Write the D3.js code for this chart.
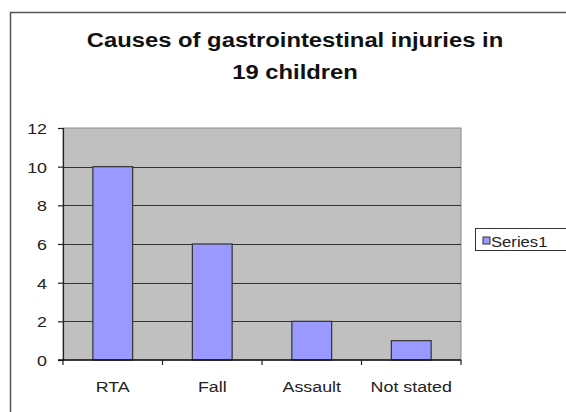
<!DOCTYPE html>
<html>
<head>
<meta charset="utf-8">
<script src="https://cdn.jsdelivr.net/npm/d3@7"></script>
<style>
  body { margin: 0; background: #fff; }
  text { font-family: "Liberation Sans", Arial, sans-serif; }
</style>
</head>
<body>
<div id="chart"></div>
<script>
// chart data
var categories = ["RTA", "Fall", "Assault", "Not stated"];
var series1 = [10, 6, 2, 1];
var yTicks = [0, 2, 4, 6, 8, 10, 12];
var titleLines = ["Causes of gastrointestinal injuries in", "19 children"];
var seriesName = "Series1";

var width = 566, height = 412;
var sx = 1.19; // the original picture is stretched sideways, text too

var plot = {left: 63, right: 461, top: 128, bottom: 360};

var svg = d3.select("#chart")
    .append("svg")
    .attr("width", width)
    .attr("height", height);

// outer chart frame (runs off the right and bottom edge)
svg.append("rect")
    .attr("x", 10.5)
    .attr("y", 12.5)
    .attr("width", 640)
    .attr("height", 460)
    .attr("fill", "#fff")
    .attr("stroke", "#555")
    .attr("stroke-width", 1.5);

// title
svg.selectAll(".title")
    .data(titleLines)
    .enter()
    .append("text")
    .attr("class", "title")
    .attr("transform", function(d, i) { return "translate(295," + (47 + i * 32) + ") scale(" + sx + ",1)"; })
    .attr("text-anchor", "middle")
    .attr("font-size", "20px")
    .attr("font-weight", "bold")
    .attr("fill", "#111")
    .text(function(d) { return d; });

var x = d3.scaleBand()
    .domain(categories)
    .range([plot.left, plot.right])
    .paddingInner(0.6)
    .paddingOuter(0.3);

var y = d3.scaleLinear()
    .domain([0, 12])
    .range([plot.bottom, plot.top]);

// plot area background
svg.append("rect")
    .attr("x", plot.left)
    .attr("y", plot.top)
    .attr("width", plot.right - plot.left)
    .attr("height", plot.bottom - plot.top)
    .attr("fill", "#c0c0c0")
    .attr("stroke", "#8a8a8a")
    .attr("stroke-width", 1);

// gridlines
svg.selectAll(".grid")
    .data(yTicks.filter(function(d) { return d > 0 && d < 12; }))
    .enter()
    .append("line")
    .attr("class", "grid")
    .attr("x1", plot.left)
    .attr("x2", plot.right)
    .attr("y1", function(d) { return Math.round(y(d)) + 0.5; })
    .attr("y2", function(d) { return Math.round(y(d)) + 0.5; })
    .attr("stroke", "#333")
    .attr("stroke-width", 1.2);

// bars
svg.selectAll(".bar")
    .data(series1)
    .enter()
    .append("rect")
    .attr("class", "bar")
    .attr("x", function(d, i) { return x(categories[i]); })
    .attr("y", function(d) { return y(d); })
    .attr("width", x.bandwidth())
    .attr("height", function(d) { return y(0) - y(d); })
    .attr("fill", "#9999ff")
    .attr("stroke", "#333")
    .attr("stroke-width", 1.2);

// y axis
var yAxis = svg.append("g")
    .attr("transform", "translate(" + plot.left + ",0)")
    .call(d3.axisLeft(y).tickValues(yTicks).tickSize(5).tickPadding(11));
yAxis.select(".domain").attr("stroke", "#222").attr("stroke-width", 1.2);
yAxis.selectAll("line").attr("stroke", "#222").attr("stroke-width", 1.2);
yAxis.selectAll("text")
    .attr("x", -16 / sx)
    .attr("dy", "0.36em")
    .attr("transform", "scale(" + sx + ",1)")
    .attr("font-size", "15px")
    .attr("fill", "#222");

// x axis
var xAxis = svg.append("g")
    .attr("transform", "translate(0," + plot.bottom + ")")
    .call(d3.axisBottom(x).tickSize(0));
xAxis.select(".domain").remove();
xAxis.selectAll("text")
    .attr("y", 32)
    .attr("dy", 0)
    .attr("transform", "scale(" + sx + ",1)")
    .attr("font-size", "15px")
    .attr("fill", "#222");

xAxis.append("line")
    .attr("x1", plot.left - 5)
    .attr("x2", plot.right)
    .attr("y1", 0)
    .attr("y2", 0)
    .attr("stroke", "#111")
    .attr("stroke-width", 1.5);

// tick marks between categories
xAxis.selectAll(".sep")
    .data(d3.range(categories.length + 1))
    .enter()
    .append("line")
    .attr("class", "sep")
    .attr("x1", function(i) { return x.range()[0] + i * x.step(); })
    .attr("x2", function(i) { return x.range()[0] + i * x.step(); })
    .attr("y1", 0)
    .attr("y2", 5)
    .attr("stroke", "#222")
    .attr("stroke-width", 1.2);

// legend
var legend = svg.append("g").attr("transform", "translate(475,228)");
legend.append("rect")
    .attr("x", 0.5)
    .attr("y", 0.5)
    .attr("width", 110)
    .attr("height", 22)
    .attr("fill", "#fff")
    .attr("stroke", "#333")
    .attr("stroke-width", 1);
legend.append("rect")
    .attr("x", 8)
    .attr("y", 9)
    .attr("width", 7)
    .attr("height", 7)
    .attr("fill", "#9999ff")
    .attr("stroke", "#333")
    .attr("stroke-width", 1);
legend.append("text")
    .attr("transform", "translate(16,19) scale(" + sx + ",1)")
    .attr("font-size", "14px")
    .attr("fill", "#222")
    .text(seriesName);
</script>
</body>
</html>
